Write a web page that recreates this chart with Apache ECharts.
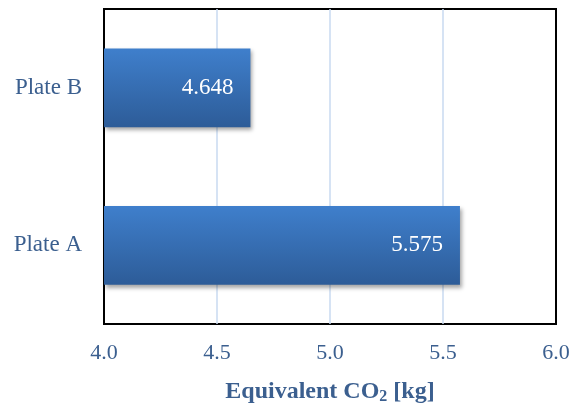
<!DOCTYPE html>
<html>
<head>
<meta charset="utf-8">
<script src="https://cdn.jsdelivr.net/npm/echarts@6/dist/echarts.min.js"></script>
<style>
  html, body { margin: 0; padding: 0; background: #ffffff; }
  #chart { width: 580px; height: 404px; }
</style>
</head>
<body>
<div id="chart"></div>
<script>
// Equivalent CO2 emissions per plate
const categories = ['Plate A', 'Plate B'];
const co2Values = [5.575, 4.648];
const xTicks = [4.0, 4.5, 5.0, 5.5, 6.0];

const serif = '"Liberation Serif", "Times New Roman", serif';
const labelBlue = '#3b5f8f';

const chart = echarts.init(document.getElementById('chart'));
chart.setOption({
  backgroundColor: '#ffffff',
  animation: false,
  grid: {
    left: 104, right: 24, top: 9, bottom: 80,
    outerBoundsMode: 'none',
    containLabel: false,
    show: true, borderColor: '#000000', borderWidth: 2, backgroundColor: 'transparent'
  },
  xAxis: {
    type: 'value',
    min: xTicks[0],
    max: xTicks[xTicks.length - 1],
    interval: 0.5,
    axisLine: { show: false },
    axisTick: { show: false },
    splitLine: {
      show: true, showMinLine: false, showMaxLine: false,
      lineStyle: { color: '#c9daf0', width: 1.5 }
    },
    axisLabel: {
      margin: 18,
      color: labelBlue,
      fontFamily: serif,
      fontSize: 22,
      formatter: v => v.toFixed(1)
    },
    name: '{a|Equivalent CO}{s|2}{a| [kg]}',
    nameLocation: 'middle',
    nameGap: 54,
    nameTextStyle: {
      rich: {
        a: { fontFamily: serif, fontSize: 24, fontWeight: 'bold', color: labelBlue },
        s: { fontFamily: serif, fontSize: 16, fontWeight: 'bold', color: labelBlue, verticalAlign: 'bottom', padding: [11, 0, 0, 0] }
      }
    }
  },
  yAxis: {
    type: 'category',
    data: categories,
    axisLine: { show: false },
    axisTick: { show: false },
    splitLine: { show: false },
    axisLabel: {
      margin: 22,
      color: labelBlue,
      fontFamily: serif,
      fontSize: 23
    }
  },
  series: [{
    type: 'bar',
    data: co2Values,
    barWidth: '50%',
    itemStyle: {
      color: new echarts.graphic.LinearGradient(0, 0, 0, 1, [
        { offset: 0, color: '#3f7fcc' },
        { offset: 1, color: '#2d5c98' }
      ]),
      shadowColor: 'rgba(0,0,0,0.35)',
      shadowBlur: 4,
      shadowOffsetX: 2,
      shadowOffsetY: 3
    },
    label: {
      show: true,
      position: 'insideRight',
      distance: 17,
      color: '#ffffff',
      fontFamily: serif,
      fontSize: 23,
      formatter: p => p.value.toFixed(3)
    }
  }]
});
</script>
</body>
</html>
